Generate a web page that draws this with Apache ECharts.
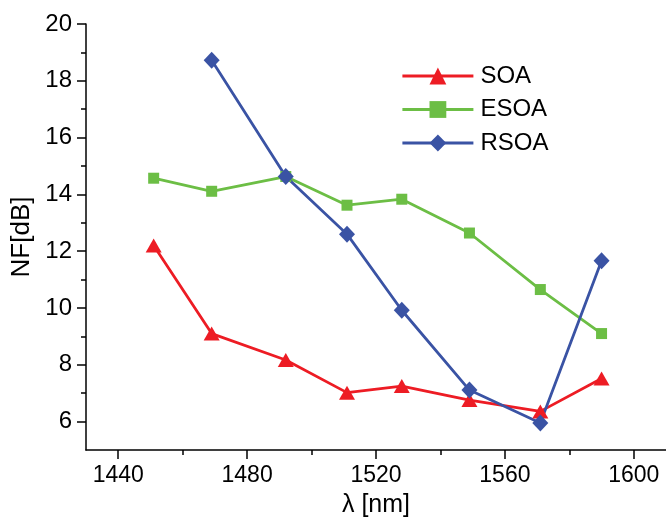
<!DOCTYPE html>
<html>
<head>
<meta charset="utf-8">
<script src="https://cdn.jsdelivr.net/npm/echarts@6/dist/echarts.min.js"></script>
<style>
html,body{margin:0;padding:0;background:#fff;}
#chart{width:666px;height:523px;}
</style>
</head>
<body>
<div id="chart"></div>
<script>
// ---- data ----
const wavelengths = [1451, 1469, 1492, 1511, 1528, 1549, 1571, 1590];
const soa  = [12.20, 9.10, 8.17, 7.02, 7.25, 6.76, 6.36, 7.52];
const esoa = [14.57, 14.11, 14.63, 13.62, 13.83, 12.64, 10.65, 9.10];
const rsoa = [null, 18.72, 14.63, 12.60, 9.92, 7.11, 5.95, 11.66];
const seriesNames = ['SOA', 'ESOA', 'RSOA'];
const xTicks = [1440, 1480, 1520, 1560, 1600];
const xMinorTicks = [1460, 1500, 1540, 1580];
const yTicks = [6, 8, 10, 12, 14, 16, 18, 20];
const yMinorTicks = [7, 9, 11, 13, 15, 17, 19];
const xRange = [1430, 1610];
const yRange = [5, 20];

const FONT = "'Liberation Sans', Arial, sans-serif";
const pairs = (ys) => wavelengths.map((x, i) => [x, ys[i]]).filter(p => p[1] !== null);

const chart = echarts.init(document.getElementById('chart'), null, {renderer: 'canvas'});
const axisLineStyle = {color: '#000', width: 1.5};
const option = {
  backgroundColor: '#fff',
  animation: false,
  grid: {left: 86, top: 24, width: 583, height: 428, containLabel: false},
  legend: {
    orient: 'vertical', left: 401, top: 64, padding: 0,
    itemWidth: 71, itemHeight: 21, itemGap: 9.5,
    textStyle: {fontFamily: FONT, fontSize: 24, color: '#000', padding: [0, 0, 0, 2]},
    lineStyle: {width: 2.8},
    data: seriesNames
  },
  xAxis: [{
    type: 'value', min: xRange[0], max: xRange[1],
    name: 'λ [nm]', nameLocation: 'middle', nameGap: 43,
    nameTextStyle: {fontFamily: FONT, fontSize: 25, color: '#000'},
    axisLine: {show: true, onZero: false, lineStyle: axisLineStyle},
    axisTick: {show: true, length: 9, customValues: xTicks, lineStyle: axisLineStyle},
    axisLabel: {show: true, customValues: xTicks, margin: 14, fontFamily: FONT, fontSize: 23, color: '#000',
      formatter: (v) => String(v)},
    splitLine: {show: false}
  }, {
    type: 'value', min: xRange[0], max: xRange[1], position: 'bottom',
    axisLine: {show: false},
    axisTick: {show: true, length: 5, customValues: xMinorTicks, lineStyle: axisLineStyle},
    axisLabel: {show: false},
    splitLine: {show: false}
  }],
  yAxis: [{
    type: 'value', min: yRange[0], max: yRange[1],
    name: 'NF[dB]', nameLocation: 'middle', nameGap: 47, nameRotate: 90,
    nameTextStyle: {fontFamily: FONT, fontSize: 26, color: '#000'},
    axisLine: {show: true, onZero: false, lineStyle: axisLineStyle},
    axisTick: {show: true, length: 9, customValues: yTicks, lineStyle: axisLineStyle},
    axisLabel: {show: true, customValues: yTicks, margin: 14, fontFamily: FONT, fontSize: 24, color: '#000'},
    splitLine: {show: false}
  }, {
    type: 'value', min: yRange[0], max: yRange[1], position: 'left',
    axisLine: {show: false},
    axisTick: {show: true, length: 5, customValues: yMinorTicks, lineStyle: axisLineStyle},
    axisLabel: {show: false},
    splitLine: {show: false}
  }],
  series: [{
    name: seriesNames[0], type: 'line', data: pairs(soa),
    symbol: 'triangle', symbolSize: [16, 14],
    lineStyle: {color: '#ED1C24', width: 2.8},
    itemStyle: {color: '#ED1C24'}
  }, {
    name: seriesNames[1], type: 'line', data: pairs(esoa),
    symbol: 'rect', symbolSize: 11,
    lineStyle: {color: '#6CBE45', width: 2.8},
    itemStyle: {color: '#6CBE45'}
  }, {
    name: seriesNames[2], type: 'line', data: pairs(rsoa),
    symbol: 'diamond', symbolSize: [16, 17],
    lineStyle: {color: '#3A53A4', width: 2.8},
    itemStyle: {color: '#3A53A4'}
  }]
};
chart.setOption(option);
</script>
</body>
</html>
